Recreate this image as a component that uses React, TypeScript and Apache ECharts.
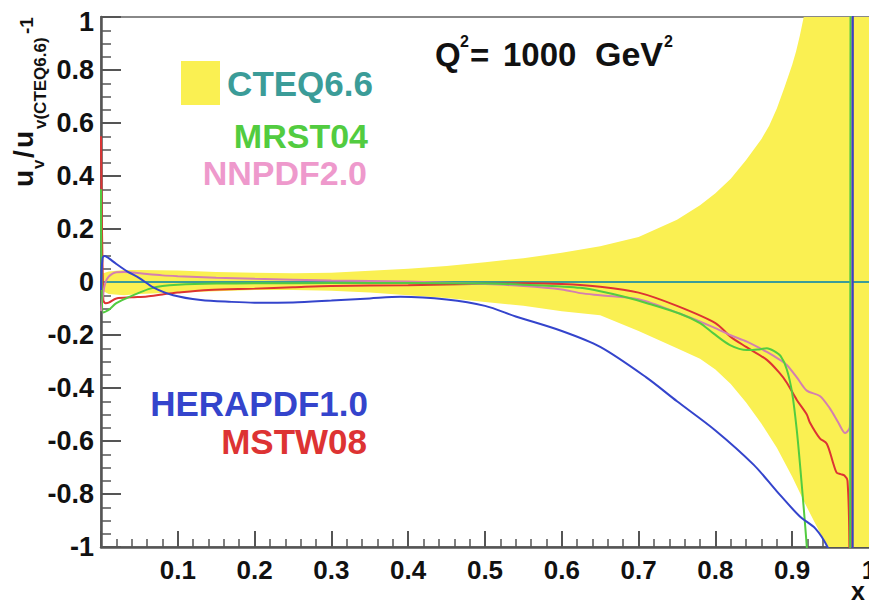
import React, { useEffect, useRef } from "react";
import * as echarts from "echarts";

// ---------- data ----------
const xTicks = [0.1, 0.2, 0.3, 0.4, 0.5, 0.6, 0.7, 0.8, 0.9, 1];
const yTicks = [-1, -0.8, -0.6, -0.4, -0.2, 0, 0.2, 0.4, 0.6, 0.8, 1];

// CTEQ6.6 uncertainty band
const bandX = [0, 0.01, 0.03, 0.05, 0.1, 0.15, 0.2, 0.25, 0.3, 0.35, 0.4, 0.45, 0.5, 0.55, 0.6, 0.65, 0.7, 0.75, 0.78, 0.8, 0.82, 0.84, 0.86, 0.87, 0.88, 0.89, 0.9, 0.905, 0.91, 0.915, 0.92, 0.935, 0.946, 0.96, 1.0];
const bandUpper = [0.03, 0.04, 0.045, 0.045, 0.043, 0.038, 0.035, 0.033, 0.035, 0.042, 0.05, 0.06, 0.075, 0.09, 0.11, 0.135, 0.17, 0.235, 0.29, 0.335, 0.39, 0.46, 0.54, 0.59, 0.655, 0.735, 0.82, 0.87, 0.93, 1.0, 1.0, 1.0, 1.0, 1.0, 1.0];
const bandLower = [-0.03, -0.045, -0.05, -0.045, -0.04, -0.035, -0.03, -0.03, -0.033, -0.04, -0.05, -0.06, -0.075, -0.09, -0.11, -0.125, -0.185, -0.25, -0.29, -0.33, -0.385, -0.455, -0.535, -0.58, -0.625, -0.68, -0.735, -0.765, -0.795, -0.825, -0.855, -0.94, -1.0, -1.0, -1.0];

// CTEQ6.6 central
const cteqX = [0, 1];
const cteqY = [0, 0];

// HERAPDF1.0
const heraX = [0, 0.002, 0.005, 0.01, 0.02, 0.034, 0.05, 0.068, 0.094, 0.13, 0.17, 0.2, 0.25, 0.3, 0.35, 0.39, 0.45, 0.5, 0.54, 0.6, 0.65, 0.71, 0.75, 0.8, 0.85, 0.88, 0.91, 0.93, 0.946, 0.96, 0.975, 0.9785, 0.979, 1];
const heraY = [-0.03, 0.09, 0.098, 0.09, 0.068, 0.04, 0.015, -0.02, -0.05, -0.068, -0.075, -0.078, -0.077, -0.07, -0.062, -0.056, -0.066, -0.09, -0.13, -0.185, -0.245, -0.36, -0.45, -0.56, -0.69, -0.79, -0.885, -0.93, -1.0, -1.1, -1.3, -3, 3, 5];

// MRST04
const mrstX = [0, 0.003, 0.01, 0.02, 0.034, 0.05, 0.064, 0.08, 0.1, 0.15, 0.2, 0.3, 0.4, 0.5, 0.55, 0.6, 0.624, 0.65, 0.68, 0.711, 0.754, 0.78, 0.797, 0.819, 0.841, 0.855, 0.867, 0.876, 0.885, 0.893, 0.9, 0.906, 0.912, 0.919, 0.93, 0.975, 0.9765, 1];
const mrstY = [0.35, -0.115, -0.105, -0.08, -0.06, -0.04, -0.025, -0.015, -0.01, -0.006, -0.005, -0.004, -0.004, -0.006, -0.01, -0.017, -0.022, -0.035, -0.055, -0.08, -0.12, -0.155, -0.193, -0.238, -0.257, -0.255, -0.25, -0.26, -0.28, -0.33, -0.42, -0.56, -0.75, -1.0, -1.5, -3, 3, 5];

// MSTW08
const mstwX = [0, 0.003, 0.006, 0.01, 0.02, 0.04, 0.06, 0.08, 0.1, 0.14, 0.2, 0.25, 0.3, 0.4, 0.5, 0.55, 0.6, 0.65, 0.7, 0.75, 0.8, 0.82, 0.84, 0.867, 0.884, 0.893, 0.906, 0.919, 0.923, 0.936, 0.945, 0.953, 0.958, 0.963, 0.968, 0.972, 0.9745, 0.978, 0.979, 1];
const mstwY = [0.55, -0.068, -0.08, -0.078, -0.062, -0.058, -0.055, -0.047, -0.04, -0.03, -0.025, -0.02, -0.015, -0.012, -0.007, -0.005, -0.008, -0.018, -0.04, -0.09, -0.155, -0.207, -0.245, -0.294, -0.345, -0.38, -0.445, -0.5, -0.53, -0.59, -0.61, -0.68, -0.72, -0.725, -0.73, -0.75, -1.0, -3, 3, 5];

// NNPDF2.0
const nnpdfX = [0, 0.003, 0.006, 0.01, 0.015, 0.02, 0.03, 0.04, 0.06, 0.08, 0.1, 0.15, 0.2, 0.3, 0.4, 0.5, 0.55, 0.6, 0.624, 0.65, 0.7, 0.754, 0.797, 0.819, 0.841, 0.867, 0.884, 0.893, 0.906, 0.919, 0.936, 0.949, 0.96, 0.969, 0.975, 0.977, 0.979, 1];
const nnpdfY = [-0.11, -0.04, 0.0, 0.02, 0.032, 0.037, 0.038, 0.036, 0.03, 0.025, 0.022, 0.016, 0.012, 0.006, 0.002, -0.008, -0.015, -0.028, -0.042, -0.05, -0.065, -0.12, -0.17, -0.2, -0.225, -0.264, -0.294, -0.313, -0.36, -0.41, -0.43, -0.477, -0.53, -0.57, -0.547, -0.3, 3, 5];

const YELLOW = "#faf052";
const TEAL = "#3b9c98";
const GREEN = "#52cc40";
const PINK = "#ee99cc";
const PINK_LINE = "#d47fb0";
const BLUE = "#3444cc";
const RED = "#dd3333";
const AXIS = "#555555";
const FONT = "'Liberation Sans', Arial, Helvetica, sans-serif";

const pairs = (xs: number[], ys: number[]) => xs.map((x, i) => [x, ys[i]]);

const fmt = (v: number) => String(+v.toFixed(2));

function lineSeries(name: string, xs: number[], ys: number[], color: string) {
  return {
    name,
    type: "line",
    data: pairs(xs, ys),
    showSymbol: false,
    symbol: "none",
    smooth: 0.3,
    clip: true,
    lineStyle: { color, width: 2 },
    z: 3,
  };
}

function txt(text: string, x: number, y: number, size: number, color: string, align = "left", extra: any = {}) {
  return {
    type: "text",
    x,
    y,
    z: 20,
    ...extra,
    style: {
      text,
      fill: color,
      fontSize: size,
      lineHeight: Math.round(size * 0.9),
      fontWeight: "bold",
      fontFamily: FONT,
      align,
      verticalAlign: "middle",
    },
  };
}

export default function App() {
  const ref = useRef<HTMLDivElement>(null);
  useEffect(() => {
    if (!ref.current) return;
    const chart = echarts.init(ref.current, null, { renderer: "svg" });
    const R = Math.PI / 2;
    const option: any = {
      animation: false,
      backgroundColor: "#ffffff",
      grid: {
        left: 101,
        top: 17,
        right: 0,
        bottom: 58,
        show: true,
        borderColor: "#888888",
        borderWidth: 2,
        backgroundColor: "transparent",
        outerBoundsMode: "none",
      },
      xAxis: {
        type: "value",
        min: 0,
        max: 1,
        interval: 0.1,
        splitLine: { show: false },
        axisLine: { show: true, onZero: false, lineStyle: { color: AXIS, width: 2.5 } },
        axisTick: { show: true, inside: true, length: 16, lineStyle: { color: AXIS, width: 2 } },
        minorTick: { show: true, splitNumber: 5, length: 8, lineStyle: { color: AXIS, width: 1.5 } },
        axisLabel: {
          margin: 10,
          fontSize: 26,
          fontWeight: "bold",
          fontFamily: FONT,
          color: "#111",
          formatter: (v: number) => (xTicks.some((t) => Math.abs(t - v) < 1e-6) ? fmt(v) : ""),
        },
      },
      yAxis: {
        type: "value",
        min: -1,
        max: 1,
        interval: 0.2,
        splitLine: { show: false },
        axisLine: { show: true, onZero: false, lineStyle: { color: AXIS, width: 2.5 } },
        axisTick: { show: true, inside: true, length: 20, lineStyle: { color: AXIS, width: 2 } },
        minorTick: { show: true, splitNumber: 4, length: 10, lineStyle: { color: AXIS, width: 1.5 } },
        axisLabel: {
          margin: 7,
          fontSize: 27,
          fontWeight: "bold",
          fontFamily: FONT,
          color: "#111",
          formatter: (v: number) => {
            if (!yTicks.some((t) => Math.abs(t - v) < 1e-6)) return "";
            if (Math.abs(v - 1) < 1e-6) return "{t|1}";
            return fmt(v);
          },
          rich: {
            t: { fontSize: 27, fontWeight: "bold", fontFamily: FONT, color: "#111", padding: [10, 0, 0, 0] },
          },
        },
      },
      series: [
        {
          name: "CTEQ6.6 band",
          type: "custom",
          z: 2,
          data: [[bandX[0], bandLower[0], bandUpper[0]]],
          renderItem: (params: any, api: any) => {
            const pts: number[][] = [];
            for (let i = 0; i < bandX.length; i++) pts.push(api.coord([bandX[i], bandUpper[i]]));
            for (let i = bandX.length - 1; i >= 0; i--) pts.push(api.coord([bandX[i], bandLower[i]]));
            return { type: "polygon", shape: { points: pts }, style: { fill: YELLOW, stroke: null } };
          },
        },
        lineSeries("CTEQ6.6", cteqX, cteqY, TEAL),
        lineSeries("MSTW08", mstwX, mstwY, RED),
        lineSeries("NNPDF2.0", nnpdfX, nnpdfY, PINK_LINE),
        lineSeries("MRST04", mrstX, mrstY, GREEN),
        lineSeries("HERAPDF1.0", heraX, heraY, BLUE),
      ],
      graphic: [
        { type: "rect", z: 20, shape: { x: 181, y: 61, width: 39, height: 44 }, style: { fill: YELLOW } },
        txt("CTEQ6.6", 373, 83, 35, TEAL, "right"),
        txt("MRST04", 368, 136, 34, GREEN, "right"),
        txt("NNPDF2.0", 367, 173, 34, PINK, "right"),
        txt("HERAPDF1.0", 368, 403, 35, BLUE, "right"),
        txt("MSTW08", 367, 441, 35, RED, "right"),
        // title
        txt("Q", 435, 54, 33, "#111"),
        txt("2", 460, 41, 16, "#111"),
        txt("=", 470, 55, 33, "#111"),
        txt("1000", 503, 54, 33, "#111"),
        txt("GeV", 595, 54, 34, "#111"),
        txt("2", 664, 41, 16, "#111"),
        // x axis title
        txt("x", 858, 591, 25, "#111", "center"),
        // y axis title (rotated)
        txt("u", 23, 187, 28, "#111", "left", { rotation: R }),
        txt("v", 38, 169, 17, "#111", "left", { rotation: R }),
        txt("/", 23, 158, 28, "#111", "left", { rotation: R }),
        txt("u", 23, 148, 28, "#111", "left", { rotation: R }),
        txt("v(CTEQ6.6)", 40, 129, 17, "#111", "left", { rotation: R }),
        txt("-1", 26, 34, 19, "#111", "left", { rotation: R }),
      ],
    };
    chart.setOption(option);
    return () => chart.dispose();
  }, []);
  return (
    <div
      ref={ref}
      style={{ position: "fixed", left: 0, top: 0, width: 869, height: 605, background: "#fff" }}
    />
  );
}
